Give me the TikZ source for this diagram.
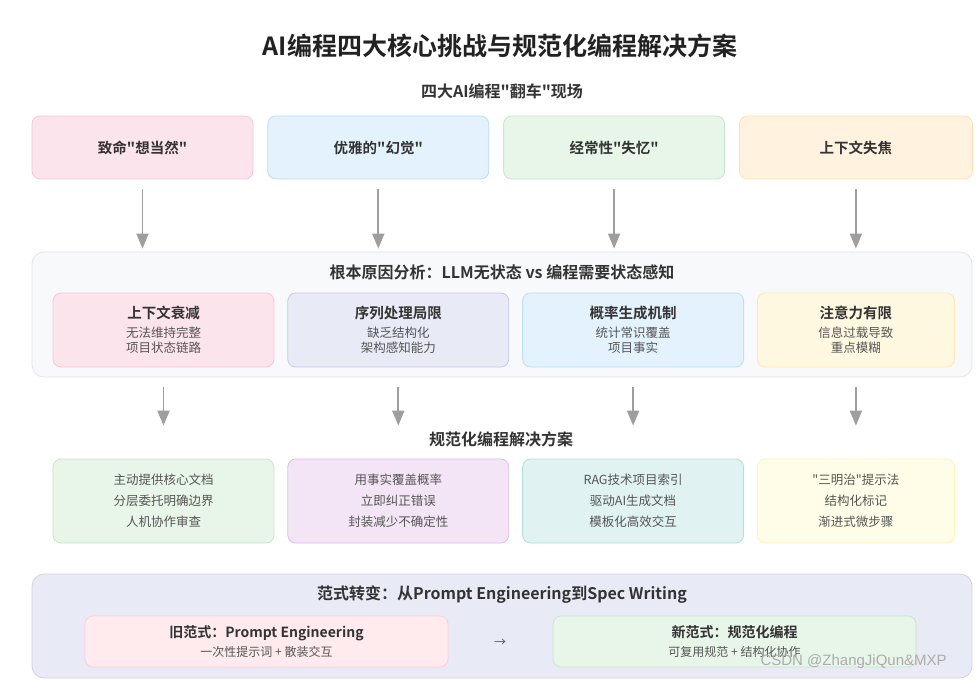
\documentclass[tikz,border=0pt]{standalone}
\usepackage{fontspec}
\newfontfamily\cjkfont{Noto Sans CJK SC}[BoldFont={* Bold}]
\newfontfamily\markfont{Liberation Sans}
\usepackage{xcolor}
\usetikzlibrary{arrows.meta, positioning}

\definecolor{titledark}{HTML}{222222}
\definecolor{headdark}{HTML}{333333}
\definecolor{bodygrey}{HTML}{555555}
\definecolor{arrowgrey}{HTML}{9E9E9E}
\definecolor{pinkbg}{HTML}{FCE4EC}
\definecolor{pinkline}{HTML}{F8C6D4}
\definecolor{bluebg}{HTML}{E3F2FD}
\definecolor{blueline}{HTML}{BBDEFB}
\definecolor{greenbg}{HTML}{E8F5E9}
\definecolor{greenline}{HTML}{C8E6C9}
\definecolor{orangebg}{HTML}{FFF3E0}
\definecolor{orangeline}{HTML}{FFE0B2}
\definecolor{lavenderbg}{HTML}{E8EAF6}
\definecolor{lavenderline}{HTML}{C5CAE9}
\definecolor{creambg}{HTML}{FFF8E1}
\definecolor{creamline}{HTML}{FFE9B0}
\definecolor{purplebg}{HTML}{F3E5F5}
\definecolor{purpleline}{HTML}{E1BEE7}
\definecolor{tealbg}{HTML}{E0F2F1}
\definecolor{tealline}{HTML}{B2DFDB}
\definecolor{yellowbg}{HTML}{FFFDE7}
\definecolor{yellowline}{HTML}{FFF3B8}
\definecolor{redbg}{HTML}{FFEBEE}
\definecolor{redline}{HTML}{FFCDD2}
\definecolor{panelbg}{HTML}{F8F9FA}
\definecolor{panelline}{HTML}{E3E5E8}
\definecolor{shiftbg}{HTML}{E8EAF6}
\definecolor{shiftline}{HTML}{CFD3EC}

\begin{document}
\cjkfont
\begin{tikzpicture}[
    x=1pt, y=-1pt,
    node distance=14pt,
    problem/.style={rectangle, draw, rounded corners=8pt, minimum width=221pt, minimum height=63pt, align=center, line width=0.8pt, text=headdark, font=\bfseries\fontsize{14.5}{17}\selectfont},
    cause/.style={rectangle, draw, rounded corners=8pt, minimum width=221pt, minimum height=74pt, align=center, line width=0.8pt, text=bodygrey, font=\fontsize{12.5}{15}\selectfont},
    remedy/.style={rectangle, draw, rounded corners=8pt, minimum width=221pt, minimum height=84pt, align=center, line width=0.8pt, text=bodygrey, font=\fontsize{12.5}{21}\selectfont},
    paradigm/.style={rectangle, draw, rounded corners=8pt, minimum width=363pt, minimum height=51pt, align=center, line width=0.8pt, text=bodygrey, font=\fontsize{12}{16}\selectfont},
    panel/.style={rectangle, draw, rounded corners=12pt, minimum width=940pt, line width=0.8pt},
    heading/.style={font=\bfseries\fontsize{16}{19}\selectfont, text=headdark},
    arrow/.style={-{Triangle[length=15pt, width=12pt]}, line width=1.8pt, draw=arrowgrey},
]
\useasboundingbox[fill=white] (0,0) rectangle (978,681);

% Titles
\node[font=\bfseries\fontsize{25}{29}\selectfont, text=titledark] (title) at (500,46) {AI编程四大核心挑战与规范化编程解决方案};
\node[heading] (scenetitle) at (502,91) {四大AI编程"翻车"现场};

% Four problems
\node[problem, fill=pinkbg, draw=pinkline] (wishful) at (142.5,147.5) {致命"想当然"};
\node[problem, fill=bluebg, draw=blueline, right=of wishful] (illusion) {优雅的"幻觉"};
\node[problem, fill=greenbg, draw=greenline, right=of illusion] (amnesia) {经常性"失忆"};
\node[problem, fill=orangebg, draw=orangeline, minimum width=233pt, right=of amnesia] (defocus) {上下文失焦};

% Root causes
\node[panel, fill=panelbg, draw=panelline, minimum height=125pt] (rootpanel) at (502,314.5) {};
\node[heading] (roottitle) at ([yshift=-21pt]rootpanel.north) {根本原因分析：LLM无状态 vs 编程需要状态感知};

\node[cause, fill=pinkbg, draw=pinkline] (decay) at (163.5,330) {{\bfseries\fontsize{14.5}{15}\selectfont\color{headdark}上下文衰减}\\[4pt]无法维持完整\\项目状态链路};
\node[cause, fill=lavenderbg, draw=lavenderline, right=13pt of decay] (sequence) {{\bfseries\fontsize{14.5}{15}\selectfont\color{headdark}序列处理局限}\\[4pt]缺乏结构化\\架构感知能力};
\node[cause, fill=bluebg, draw=blueline, right=13pt of sequence] (probability) {{\bfseries\fontsize{14.5}{15}\selectfont\color{headdark}概率生成机制}\\[4pt]统计常识覆盖\\项目事实};
\node[cause, fill=creambg, draw=creamline, minimum width=197pt, right=13pt of probability] (attention) {{\bfseries\fontsize{14.5}{15}\selectfont\color{headdark}注意力有限}\\[4pt]信息过载导致\\重点模糊};

% Solutions
\node[heading] (remedytitle) at (501,439) {规范化编程解决方案};

\node[remedy, fill=greenbg, draw=greenline] (docs) at (163.5,501) {主动提供核心文档\\分层委托明确边界\\人机协作审查};
\node[remedy, fill=purplebg, draw=purpleline, right=13pt of docs] (facts) {用事实覆盖概率\\立即纠正错误\\封装减少不确定性};
\node[remedy, fill=tealbg, draw=tealline, right=13pt of facts] (rag) {RAG技术项目索引\\驱动AI生成文档\\模板化高效交互};
\node[remedy, fill=yellowbg, draw=yellowline, minimum width=197pt, right=13pt of rag] (sandwich) {"三明治"提示法\\结构化标记\\渐进式微步骤};

% Paradigm shift
\node[panel, fill=shiftbg, draw=shiftline, minimum height=104pt] (shiftpanel) at (502,626) {};
\node[heading] (shifttitle) at ([yshift=-21pt]shiftpanel.north) {范式转变：从Prompt Engineering到Spec Writing};

\node[paradigm, fill=redbg, draw=redline] (oldway) at (266.5,641.5) {{\bfseries\fontsize{14}{15}\selectfont\color{headdark}旧范式：Prompt Engineering}\\[3pt]一次性提示词 + 散装交互};
\node[paradigm, fill=greenbg, draw=greenline] (newway) at (734.5,641.5) {{\bfseries\fontsize{14}{15}\selectfont\color{headdark}新范式：规范化编程}\\[3pt]可复用规范 + 结构化协作};
\node[text=bodygrey, font=\fontsize{12}{12}\selectfont] (shiftarrow) at (500,643) {→};

% Arrows
\draw[arrow, shorten <=10pt, shorten >=3pt] (wishful.south) -- (wishful.south |- rootpanel.north);
\draw[arrow, shorten <=10pt, shorten >=3pt] (illusion.south) -- (illusion.south |- rootpanel.north);
\draw[arrow, shorten <=10pt, shorten >=3pt] (amnesia.south) -- (amnesia.south |- rootpanel.north);
\draw[arrow, shorten <=10pt, shorten >=3pt] (defocus.south) -- (defocus.south |- rootpanel.north);

\draw[arrow, shorten <=10pt, shorten >=33pt] (decay.south |- rootpanel.south) -- (docs.north);
\draw[arrow, shorten <=10pt, shorten >=33pt] (sequence.south |- rootpanel.south) -- (facts.north);
\draw[arrow, shorten <=10pt, shorten >=33pt] (probability.south |- rootpanel.south) -- (rag.north);
\draw[arrow, shorten <=10pt, shorten >=33pt] (attention.south |- rootpanel.south) -- (sandwich.north);

% Watermark
\node[anchor=west, text=gray!65, font=\markfont\fontsize{15}{15}\selectfont] (watermark) at (757,662) {CSDN @ZhangJiQun\&MXP};

\end{tikzpicture}
\end{document}
